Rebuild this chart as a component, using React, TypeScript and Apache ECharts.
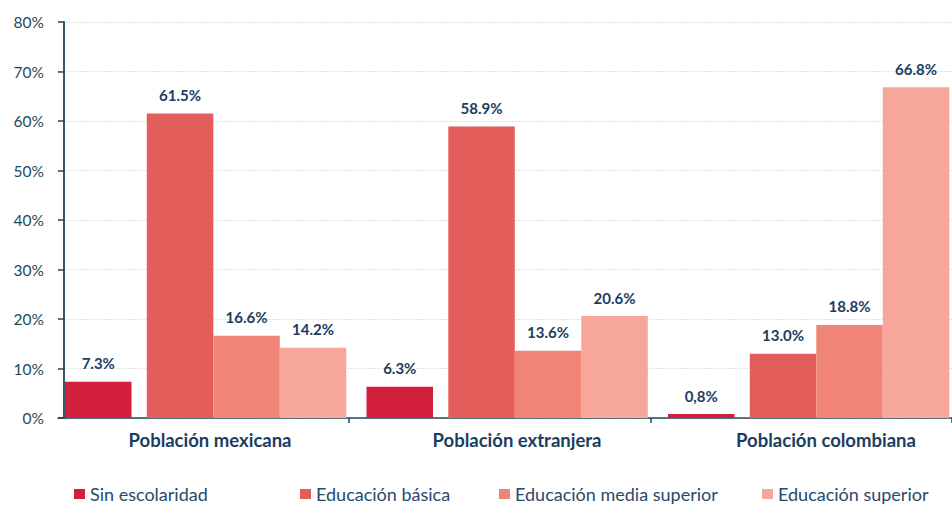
import React, { useEffect, useRef } from "react";
import * as echarts from "echarts";

const categories = ["Población mexicana", "Población extranjera", "Población colombiana"];
const seriesNames = ["Sin escolaridad", "Educación básica", "Educación media superior", "Educación superior"];
const sinEscolaridad = [7.3, 6.3, 0.8];
const sinEscolaridadLabels = ["7.3%", "6.3%", "0,8%"];
const educacionBasica = [61.5, 58.9, 13.0];
const educacionMediaSuperior = [16.6, 13.6, 18.8];
const educacionSuperior = [14.2, 20.6, 66.8];
const yTicks = { min: 0, max: 80, interval: 10 };

const colors = ["#d21f3b", "#e35d5a", "#f08577", "#f6a79a"];
const navy = "#1b3d5f";
const axisColor = "#1f4a5a";

export default function App() {
  const ref = useRef<HTMLDivElement>(null);
  useEffect(() => {
    if (!ref.current) return;
    const chart = echarts.init(ref.current, null, { renderer: "svg" });
    const barW = 66.5;
    const labelStyle = {
      show: true,
      position: "top" as const,
      distance: 11,
      color: navy,
      fontFamily: "Lato",
      fontWeight: "bold" as const,
      fontSize: 15,
    };
    const mkBar = (name: string, data: number[], color: string, fmt?: (p: any) => string) => ({
      type: "bar",
      name,
      data,
      barWidth: barW,
      barGap: 0,
      itemStyle: { color },
      label: { ...labelStyle, formatter: fmt || ((p: any) => p.value.toFixed(1) + "%") },
    });
    const spacer = (name: string, w: number) => ({
      type: "bar",
      name,
      data: ["-", "-", "-"],
      barWidth: w,
      barGap: 0,
    });
    const legendLefts = [74, 300, 499, 762];
    const xRich: any = {};
    [23.5, 34.5, 49.5].forEach((pad, i) => {
      xRich["c" + i] = {
        padding: [0, 0, 0, pad],
        fontFamily: "Lato",
        fontWeight: "bold",
        fontSize: 18.5,
        color: navy,
      };
    });
    chart.setOption({
      animation: false,
      grid: { left: 47.5, top: 22, width: 904.5, height: 396, containLabel: false },
      xAxis: {
        type: "category",
        data: categories,
        axisLine: { lineStyle: { color: axisColor, width: 1.5 } },
        axisTick: { show: true, length: 5, lineStyle: { color: axisColor, width: 1.5 } },
        axisLabel: {
          margin: 12,
          formatter: (v: string, i: number) => `{c${i}|${v}}`,
          rich: xRich,
        },
      },
      yAxis: {
        type: "value",
        min: yTicks.min,
        max: yTicks.max,
        interval: yTicks.interval,
        offset: -16.5,
        axisLine: { show: true, lineStyle: { color: axisColor, width: 1.8 } },
        axisTick: { show: true, length: 6, lineStyle: { color: axisColor, width: 1.5 } },
        axisLabel: {
          formatter: "{value}%",
          margin: 20,
          color: axisColor,
          fontFamily: "Lato",
          fontSize: 15.5,
        },
        splitLine: { show: true, lineStyle: { color: "#c4c4c4", type: [1, 2], width: 1 } },
      },
      legend: seriesNames.map((n, i) => ({
        data: [n],
        left: legendLefts[i],
        top: 485,
        padding: 0,
        icon: "rect",
        itemWidth: 11,
        itemHeight: 10,
        textStyle: { color: "#2a4a6a", fontFamily: "Lato", fontSize: 18 },
      })),
      graphic: [
        {
          type: "rect",
          z: 100,
          shape: { x: 45.5, y: 14, width: 12, height: 414 },
          style: { fill: "#ffffff" },
        },
      ],
      series: [
        spacer("_lead", 14.8),
        mkBar(seriesNames[0], sinEscolaridad, colors[0], (p: any) => sinEscolaridadLabels[p.dataIndex]),
        spacer("_gap", 15.3),
        mkBar(seriesNames[1], educacionBasica, colors[1]),
        mkBar(seriesNames[2], educacionMediaSuperior, colors[2]),
        mkBar(seriesNames[3], educacionSuperior, colors[3]),
      ],
    });
    return () => chart.dispose();
  }, []);
  return (
    <div
      ref={ref}
      style={{ position: "fixed", left: 0, top: 0, width: 952, height: 505, background: "#fff" }}
    />
  );
}
